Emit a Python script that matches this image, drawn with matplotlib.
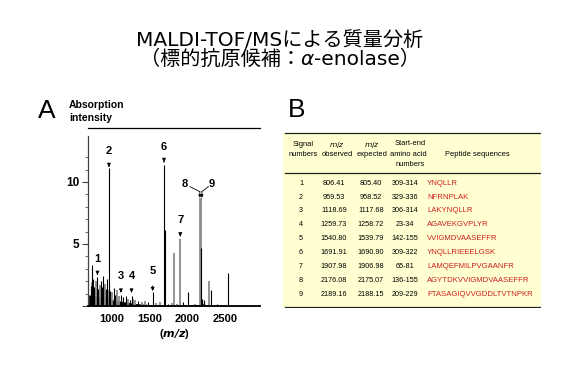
import matplotlib.pyplot as plt
import numpy as np

# ---- data ----
# peptide table
signal_no = [1, 2, 3, 4, 5, 6, 7, 8, 9]
mz_observed = ['806.41', '959.53', '1118.69', '1259.73', '1540.80',
               '1691.91', '1907.98', '2176.08', '2189.16']
mz_expected = ['805.40', '958.52', '1117.68', '1258.72', '1539.79',
               '1690.90', '1906.98', '2175.07', '2188.15']
aa_range = ['309-314', '329-336', '306-314', '23-34', '142-155',
            '309-322', '65-81', '136-155', '209-229']
peptides = ['YNQLLR', 'NFRNPLAK', 'LAKYNQLLR', 'AGAVEKGVPLYR',
            'VVIGMDVAASEFFR', 'YNQLLRIEEELGSK', 'LAMQEFMILPVGAANFR',
            'AGYTDKVVIGMDVAASEFFR', 'FTASAGIQVVGDDLTVTNPKR']

# spectrum peaks (m/z, intensity)
black_mz = [730, 751, 806.4, 850, 876, 937, 959.5, 1027, 1118.7, 1186,
            1259.7, 1540.8, 1691.9, 1701, 2015, 2180, 2310, 2547,
            715, 765, 815, 862, 920, 980, 1045, 1150, 1240, 1350, 1480,
            1750, 1950, 2200, 2230, 2400]
black_h = [3.3, 2.2, 2.3, 2.0, 2.4, 2.2, 11.1, 1.45, 0.9, 0.8,
           0.8, 1.1, 11.4, 6.1, 1.15, 4.7, 1.3, 2.7,
           1.6, 1.5, 1.4, 1.5, 1.4, 1.2, 0.9, 0.7, 0.5, 0.4, 0.3,
           0.2, 0.3, 0.6, 0.5, 0.15]
gray_mz = [740, 783, 838, 890, 907, 950, 1000, 1070, 1090, 1210, 1283,
           1310, 1400, 1439, 1580, 1638, 1800, 1824, 1860, 1908,
           2100, 2176.1, 2189.2, 2290]
gray_h = [1.9, 2.0, 1.7, 1.7, 1.8, 1.3, 1.1, 1.3, 0.8, 0.6, 0.6,
          0.45, 0.35, 0.4, 0.25, 0.3, 0.25, 4.3, 0.2, 5.4,
          0.2, 8.7, 8.7, 2.0]
# baseline envelope
base_mz = [690, 800, 900, 1000, 1100, 1200, 1300, 1500, 1700, 2000,
           2150, 2200, 2250, 2500, 2970]
base_h = [0.9, 0.8, 0.7, 0.5, 0.4, 0.3, 0.2, 0.12, 0.1, 0.08,
          0.1, 0.2, 0.1, 0.05, 0.03]

# arrow annotations: label, m/z, label height, tip height
ann_label = ['1', '2', '3', '4', '5', '6', '7']
ann_mz = [806.4, 959.5, 1118.7, 1259.7, 1540.8, 1691.9, 1908.0]
ann_text_y = [3.8, 12.5, 2.4, 2.4, 2.8, 12.8, 6.9]
ann_tip_y = [2.5, 11.2, 1.07, 1.07, 1.2, 11.6, 5.6]

W, H = 567, 378
fig = plt.figure(figsize=(W / 100, H / 100), dpi=100)


def fx(x):
    return x / W


def fy(y):
    return 1 - y / H


# ---- title ----
jp = ['DejaVu Sans', 'Noto Sans CJK JP']
tsz = 14.5
fig.text(fx(280), fy(40), 'MALDI-TOF/MSによる質量分析', family=jp,
         fontsize=tsz, ha='center', va='center')
# second line in three pieces so that alpha can be italic
r = fig.canvas.get_renderer()
t1 = fig.text(0, fy(59.5), '（標的抗原候補：', family=jp, fontsize=tsz,
              ha='left', va='center')
t2 = fig.text(0, fy(59.5), 'α', family='DejaVu Sans', style='italic',
              fontsize=tsz, ha='left', va='center')
t3 = fig.text(0, fy(59.5), '-enolase）', family=jp, fontsize=tsz,
              ha='left', va='center')
w1 = t1.get_window_extent(r).width
w2 = t2.get_window_extent(r).width
w3 = t3.get_window_extent(r).width
x0 = 280 - (w1 + w2 + w3) / 2
t1.set_x(fx(x0))
t2.set_x(fx(x0 + w1))
t3.set_x(fx(x0 + w1 + w2))

# ---- panel A: spectrum ----
lat = 'Liberation Sans'
fig.text(fx(38), fy(111), 'A', family=lat, fontsize=19, ha='left', va='center')
fig.text(fx(69), fy(105), 'Absorption', family=lat, fontsize=7.5,
         weight='bold', ha='left', va='center')
fig.text(fx(69), fy(118), 'intensity', family=lat, fontsize=7.5,
         weight='bold', ha='left', va='center')

ax = fig.add_axes([fx(88), fy(306), fx(260) - fx(88), fy(128) - fy(306)])
ax.fill_between(base_mz, 0, base_h, color='black', lw=0)
ax.vlines(gray_mz, 0, gray_h, color='#8a8a8a', lw=1.3)
ax.vlines(black_mz, 0, black_h, color='black', lw=0.8)
ax.set_xlim(681, 2968)
ax.set_ylim(0, 14.35)

for lab, m, ty, tip in zip(ann_label, ann_mz, ann_text_y, ann_tip_y):
    ax.annotate(lab, xy=(m, tip), xytext=(m, ty), ha='center', va='center',
                family=lat, weight='bold', fontsize=8,
                arrowprops=dict(arrowstyle='-|>', color='black', lw=0.7,
                                mutation_scale=5, shrinkA=5, shrinkB=0))

# labels 8 and 9 with joined arrows
ax.text(1971, 9.8, '8', family=lat, weight='bold', fontsize=8,
        ha='center', va='center')
ax.text(2326, 9.8, '9', family=lat, weight='bold', fontsize=8,
        ha='center', va='center')
ax.plot([2037, 2168], [9.62, 9.22], color='black', lw=0.6)
ax.plot([2281, 2196], [9.62, 9.22], color='black', lw=0.6)
for m in [2168, 2196]:
    ax.annotate('', xy=(m, 8.72), xytext=(m, 9.22),
                arrowprops=dict(arrowstyle='-|>', color='black', lw=0.6,
                                mutation_scale=4, shrinkA=0, shrinkB=0))

ax.spines['right'].set_visible(False)
ax.spines['top'].set_linewidth(0.9)
ax.spines['bottom'].set_linewidth(1.3)
ax.spines['left'].set_linewidth(0.9)
ax.spines['left'].set_color('#444444')
ax.spines['left'].set_bounds(0, 13.7)

ax.set_yticks([0, 5, 10])
ax.set_yticklabels(['', '5', '10'])
ax.set_yticks([1, 2, 3, 4, 6, 7, 8, 9, 11, 12], minor=True)
ax.tick_params(axis='y', which='major', direction='out', length=4,
               width=0.8, color='#444444', pad=2, labelsize=8.5)
ax.tick_params(axis='y', which='minor', direction='out', length=2.5,
               width=0.7, color='#666666')
ax.set_xticks([1000, 1500, 2000, 2500])
ax.tick_params(axis='x', length=0, pad=6, labelsize=8)
for t in ax.get_xticklabels() + ax.get_yticklabels():
    t.set_family(lat)
    t.set_weight('bold')
ax.set_xlabel('($\\mathbfit{m/z}$)', family=lat, weight='bold',
              fontsize=8, labelpad=2)

# ---- panel B: table ----
fig.text(fx(288), fy(110), 'B', family=lat, fontsize=19, ha='left', va='center')

tb = fig.add_axes([fx(283), fy(308), fx(541) - fx(283), fy(131) - fy(308)])
tb.set_xlim(283, 541)
tb.set_ylim(308, 131)
tb.axis('off')
tb.add_patch(plt.Rectangle((283, 133), 258, 174, color='#FFFFD2', zorder=0))
for yl in [133, 172.5, 307]:
    tb.plot([285, 540], [yl, yl], color='#222222', lw=0.9)

hs = 5.4
tb.text(303, 145, 'Signal', fontsize=hs, family=lat, ha='center', va='center')
tb.text(303, 155, 'numbers', fontsize=hs, family=lat, ha='center', va='center')
tb.text(337, 145, '$\\it{m/z}$', fontsize=hs, family=lat, ha='center', va='center')
tb.text(337, 155, 'observed', fontsize=hs, family=lat, ha='center', va='center')
tb.text(372, 145, '$\\it{m/z}$', fontsize=hs, family=lat, ha='center', va='center')
tb.text(372, 155, 'expected', fontsize=hs, family=lat, ha='center', va='center')
tb.text(410, 143.5, 'Start-end', fontsize=hs, family=lat, ha='center', va='center')
tb.text(408, 154.5, 'amino acid', fontsize=hs, family=lat, ha='center', va='center')
tb.text(410, 165, 'numbers', fontsize=hs, family=lat, ha='center', va='center')
tb.text(477, 154, 'Peptide sequences', fontsize=hs, family=lat,
        ha='center', va='center')

ds = 5.2
for i in range(len(signal_no)):
    yr = 183.3 + 13.85 * i
    tb.text(301, yr, str(signal_no[i]), fontsize=ds, family=lat,
            ha='center', va='center')
    tb.text(334, yr, mz_observed[i], fontsize=ds, family=lat,
            ha='center', va='center')
    tb.text(371, yr, mz_expected[i], fontsize=ds, family=lat,
            ha='center', va='center')
    tb.text(405, yr, aa_range[i], fontsize=ds, family=lat,
            ha='center', va='center')
    tb.text(427, yr, peptides[i], fontsize=5.6, family=lat, color='#CC2020',
            ha='left', va='center')

plt.savefig('out.png', dpi=100)
